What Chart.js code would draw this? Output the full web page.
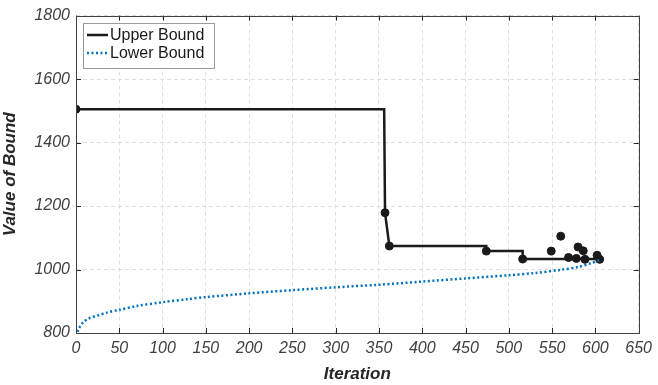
<!DOCTYPE html>
<html>
<head>
<meta charset="utf-8">
<script src="https://cdn.jsdelivr.net/npm/chart.js@4.4.0/dist/chart.umd.min.js"></script>
<style>
  body { margin: 0; background: #fff; }
  #wrap { width: 658px; height: 385px; }
</style>
</head>
<body>
<div id="wrap"><canvas id="c"></canvas></div>
<script>
  // upper bound path (iteration, value)
  const ubIter = [0, 356, 357, 362, 474, 474, 516, 516, 607];
  const ubVal = [1505, 1505, 1179, 1074, 1074, 1058, 1058, 1033, 1033];

  // markers on the upper bound
  const dotIter = [0, 357, 362, 474, 516, 549, 560, 569, 578, 580, 586, 588, 602, 605];
  const dotVal = [1505, 1179, 1074, 1058, 1033, 1058, 1105, 1038, 1035, 1071, 1059, 1032, 1045, 1032];

  // lower bound
  const lbIter = [0, 3, 8, 15, 25, 35, 50, 70, 100, 130, 150, 200, 250, 300, 350, 400, 450, 500, 530, 560, 580, 595, 605];
  const lbVal = [790, 812, 833, 846, 855, 864, 873, 885, 897, 907, 913, 925, 935, 944, 952, 962, 972, 982, 989, 999, 1008, 1020, 1030];

  const xTicks = [0, 50, 100, 150, 200, 250, 300, 350, 400, 450, 500, 550, 600, 650];
  const yTicks = [800, 1000, 1200, 1400, 1600, 1800];

  const toPts = (xs, ys) => xs.map((x, i) => ({ x, y: ys[i] }));

  const upperColor = '#1a1a1a';
  const lowerColor = 'rgb(0,114,189)';
  const fontName = '"Liberation Sans", Arial, sans-serif';

  const boxPlugin = {
    id: 'box',
    afterDraw(chart) {
      const ctx = chart.ctx;
      const a = chart.chartArea;
      const xs = chart.scales.x, ys = chart.scales.y;
      ctx.save();
      ctx.strokeStyle = '#262626';
      ctx.lineWidth = 1;
      ctx.beginPath();
      xTicks.forEach(t => {
        let px = Math.round(xs.getPixelForValue(t)) + 0.5;
        ctx.moveTo(px, a.bottom); ctx.lineTo(px, a.bottom - 5);
        ctx.moveTo(px, a.top); ctx.lineTo(px, a.top + 5);
      });
      yTicks.forEach(t => {
        let py = Math.round(ys.getPixelForValue(t)) + 0.5;
        ctx.moveTo(a.left, py); ctx.lineTo(a.left + 5, py);
        ctx.moveTo(a.right, py); ctx.lineTo(a.right - 5, py);
      });
      ctx.stroke();
      ctx.strokeStyle = '#404040';
      ctx.strokeRect(Math.round(a.left) + 0.5, Math.round(a.top) + 0.5, Math.round(a.right - a.left), Math.round(a.bottom - a.top));

      // legend
      const lx = 83, ly = 23, lw = 131, lh = 45;
      ctx.fillStyle = '#fff';
      ctx.fillRect(lx, ly, lw, lh);
      ctx.strokeStyle = '#9a9a9a';
      ctx.strokeRect(lx + 0.5, ly + 0.5, lw, lh);
      ctx.font = '16px ' + fontName;
      ctx.textBaseline = 'middle';
      ctx.fillStyle = '#1a1a1a';
      const items = [
        { label: 'Upper Bound', color: upperColor, dash: [], y: ly + 12 },
        { label: 'Lower Bound', color: lowerColor, dash: [2, 2.5], y: ly + 30 }
      ];
      items.forEach(it => {
        ctx.beginPath();
        ctx.strokeStyle = it.color;
        ctx.lineWidth = 2.5;
        ctx.setLineDash(it.dash);
        ctx.moveTo(lx + 4, it.y);
        ctx.lineTo(lx + 25, it.y);
        ctx.stroke();
        ctx.setLineDash([]);
        ctx.fillText(it.label, lx + 27, it.y + 1);
      });
      ctx.restore();
    }
  };

  new Chart(document.getElementById('c'), {
    type: 'scatter',
    data: {
      datasets: [
        {
          label: 'Lower Bound',
          data: toPts(lbIter, lbVal),
          showLine: true,
          borderColor: lowerColor,
          borderWidth: 2.5,
          borderDash: [2, 2.5],
          pointRadius: 0,
          tension: 0.3
        },
        {
          label: 'Upper Bound',
          data: toPts(ubIter, ubVal),
          showLine: true,
          borderColor: upperColor,
          borderWidth: 2.5,
          pointRadius: 0
        },
        {
          label: 'markers',
          data: toPts(dotIter, dotVal),
          showLine: false,
          backgroundColor: upperColor,
          borderColor: upperColor,
          pointRadius: 4
        }
      ]
    },
    options: {
      responsive: true,
      maintainAspectRatio: false,
      animation: false,
      layout: { padding: { top: 14, right: 17, left: 0, bottom: 0 } },
      plugins: {
        legend: { display: false },
        tooltip: { enabled: false }
      },
      scales: {
        x: {
          type: 'linear',
          min: 0,
          max: 650,
          afterBuildTicks: s => { s.ticks = xTicks.map(v => ({ value: v })); },
          afterFit: s => { s.height = 52; },
          grid: { color: '#dedede', drawTicks: false },
          border: { display: false, dash: [4, 3] },
          ticks: {
            color: '#404040',
            padding: 6,
            callback: v => String(v),
            font: { family: fontName, size: 16, style: 'italic' },
            maxRotation: 0
          },
          title: {
            display: true,
            text: 'Iteration',
            color: '#262626',
            padding: { top: 0, bottom: 0 },
            font: { family: fontName, size: 17, style: 'italic', weight: 'bold' }
          }
        },
        y: {
          min: 800,
          max: 1800,
          afterBuildTicks: s => { s.ticks = yTicks.map(v => ({ value: v })); },
          afterFit: s => { s.width = 76; },
          grid: { color: '#dedede', drawTicks: false },
          border: { display: false, dash: [4, 3] },
          ticks: {
            color: '#404040',
            padding: 6,
            callback: v => String(v),
            font: { family: fontName, size: 16, style: 'italic' }
          },
          title: {
            display: true,
            text: 'Value of Bound',
            color: '#262626',
            padding: { top: 0, bottom: 4 },
            font: { family: fontName, size: 17, style: 'italic', weight: 'bold' }
          }
        }
      }
    },
    plugins: [boxPlugin]
  });
</script>
</body>
</html>
